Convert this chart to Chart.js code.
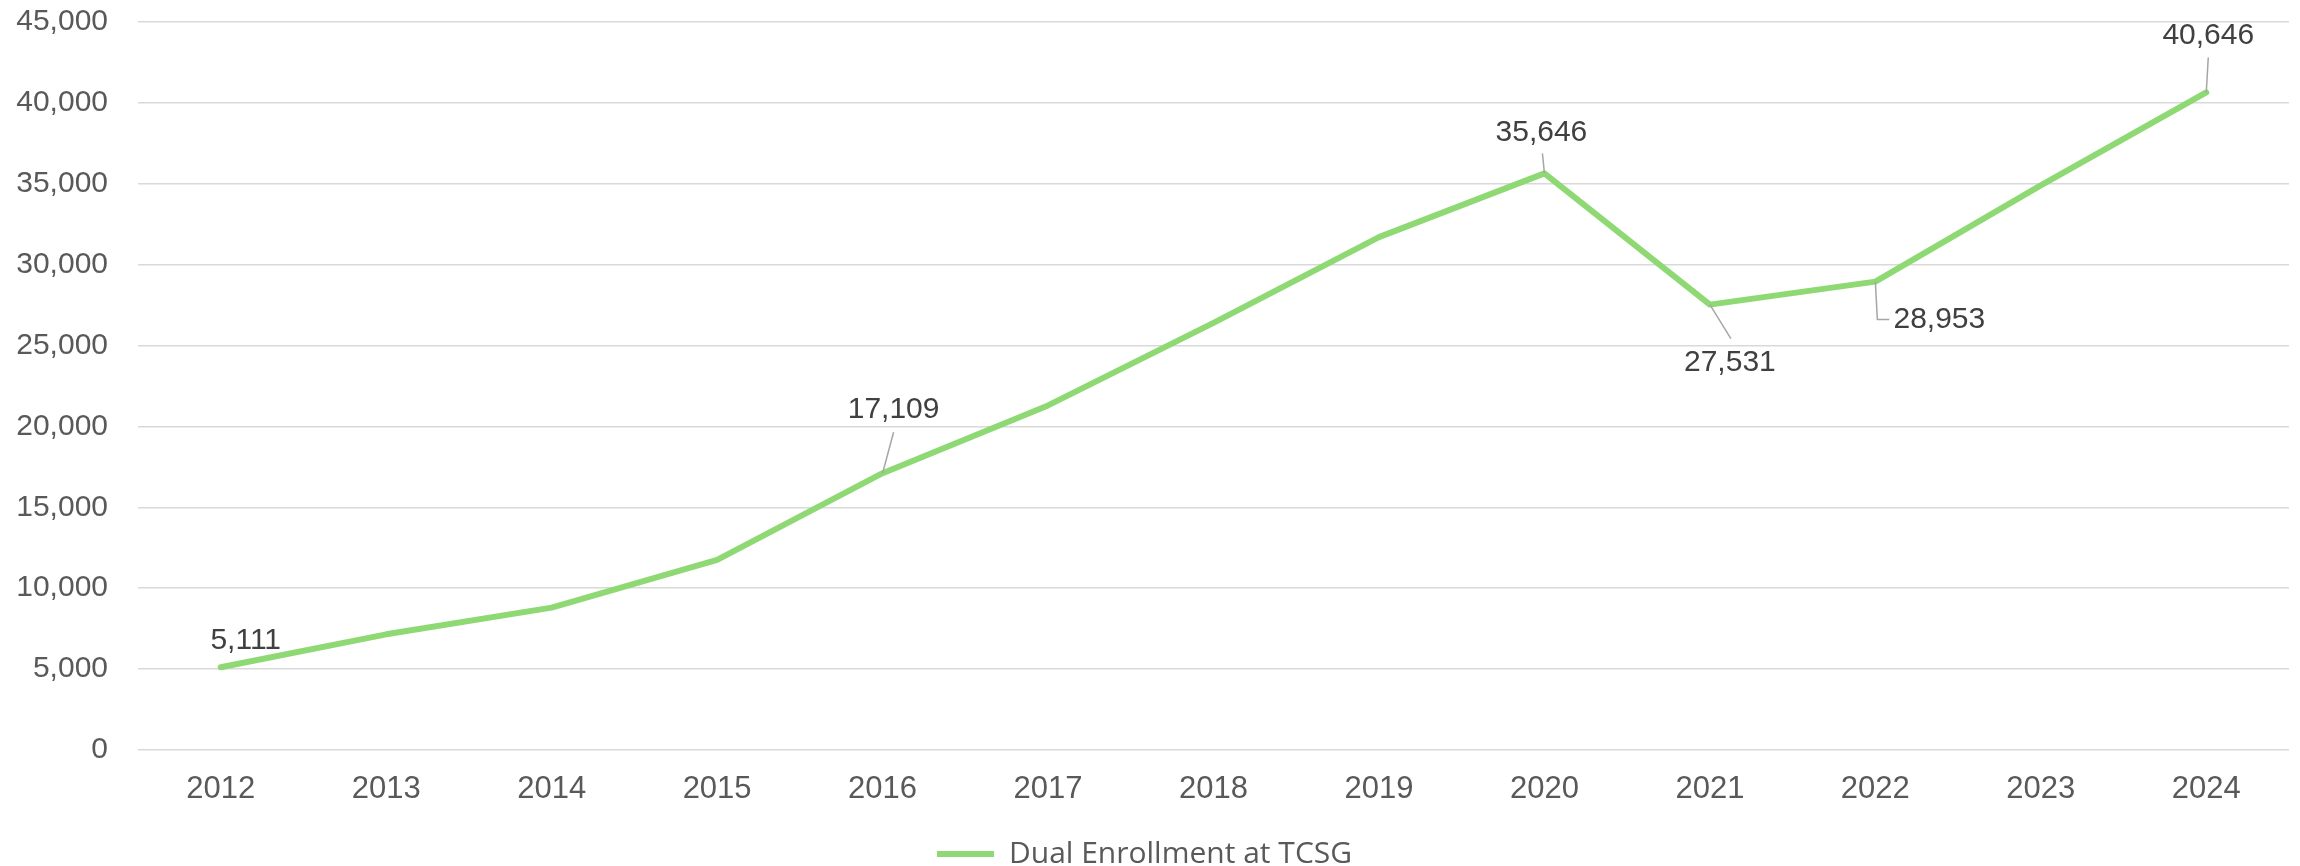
<!DOCTYPE html>
<html>
<head>
<meta charset="utf-8">
<script src="https://cdn.jsdelivr.net/npm/chart.js@4.4.1/dist/chart.umd.min.js"></script>
<style>
    html, body { margin: 0; padding: 0; background: #ffffff; }
    #wrap { width: 2300px; height: 866px; position: relative; }
</style>
</head>
<body>
<div id="wrap"><canvas id="myChart" width="2300" height="866"></canvas></div>
<script>
// data
const years = ['2012', '2013', '2014', '2015', '2016', '2017', '2018', '2019', '2020', '2021', '2022', '2023', '2024'];
const enrollment = [5111, 7150, 8800, 11750, 17109, 21300, 26400, 31700, 35646, 27531, 28953, 34900, 40646];
const series_name = 'Dual Enrollment at TCSG';
const labelled_points = [0, 4, 8, 9, 10, 12];

// where each value label sits relative to its point (text centre + leader line)
const label_style = {
    0:  { dx: 25, dy: -27, leader: [] },
    4:  { dx: 11, dy: -63, leader: [[11, -41]] },
    8:  { dx: -3, dy: -41, leader: [[-2, -20]] },
    9:  { dx: 20, dy: 58, leader: [[21, 34]] },
    10: { dx: 64, dy: 38, leader: [[2, 38], [14, 38]] },
    12: { dx: 2, dy: -57, leader: [[2, -35]] },
};

const valueLabels = {
    id: 'valueLabels',
    afterDatasetsDraw(chart) {
        const ctx = chart.ctx;
        const meta = chart.getDatasetMeta(0);
        ctx.save();
        labelled_points.forEach(i => {
            const pt = meta.data[i];
            const st = label_style[i];
            if (st.leader.length) {
                ctx.beginPath();
                ctx.strokeStyle = '#a6a6a6';
                ctx.lineWidth = 1.5;
                ctx.moveTo(pt.x, pt.y);
                st.leader.forEach(p => ctx.lineTo(pt.x + p[0], pt.y + p[1]));
                ctx.stroke();
            }
            ctx.fillStyle = '#404040';
            ctx.font = '30px "Liberation Sans", Arial, sans-serif';
            ctx.textAlign = 'center';
            ctx.textBaseline = 'middle';
            ctx.fillText(enrollment[i].toLocaleString('en-US'), pt.x + st.dx, pt.y + st.dy);
        });
        ctx.restore();
    }
};

const data = {
    labels: years,
    datasets: [{
        label: series_name,
        data: enrollment,
        borderColor: '#8ed973',
        backgroundColor: '#8ed973',
        borderWidth: 6,
        borderCapStyle: 'round',
        borderJoinStyle: 'round',
        pointRadius: 0,
        pointHoverRadius: 0,
        fill: false,
        tension: 0,
    }]
};

const config = {
    type: 'line',
    data: data,
    options: {
        responsive: false,
        animation: false,
        layout: {
            padding: { left: 0, right: 11, top: 22, bottom: -13 }
        },
        plugins: {
            legend: {
                position: 'bottom',
                labels: {
                    usePointStyle: true,
                    pointStyle: 'line',
                    pointStyleWidth: 57,
                    padding: 0,
                    color: '#595959',
                    font: { family: '"Open Sans", sans-serif', size: 30 }
                }
            },
            tooltip: { enabled: false }
        },
        scales: {
            x: {
                offset: true,
                grid: { display: false, drawTicks: false },
                border: { display: false },
                ticks: {
                    color: '#595959',
                    padding: 21,
                    font: { family: '"Liberation Sans", Arial, sans-serif', size: 31 }
                },
                afterFit: function(scale) {
                    scale.height = 89;
                }
            },
            y: {
                min: 0,
                max: 45000,
                grid: { color: '#d9d9d9', lineWidth: 1.5, drawTicks: false },
                border: { display: false },
                ticks: {
                    stepSize: 5000,
                    color: '#595959',
                    padding: 30,
                    font: { family: '"Liberation Sans", Arial, sans-serif', size: 30 },
                    callback: v => v.toLocaleString('en-US')
                },
                afterFit: function(scale) {
                    scale.width = 138;
                    scale.paddingTop = 0;
                    scale.paddingBottom = 0;
                }
            }
        }
    },
    plugins: [valueLabels]
};

const myChart = new Chart(document.getElementById('myChart'), config);
</script>
</body>
</html>
